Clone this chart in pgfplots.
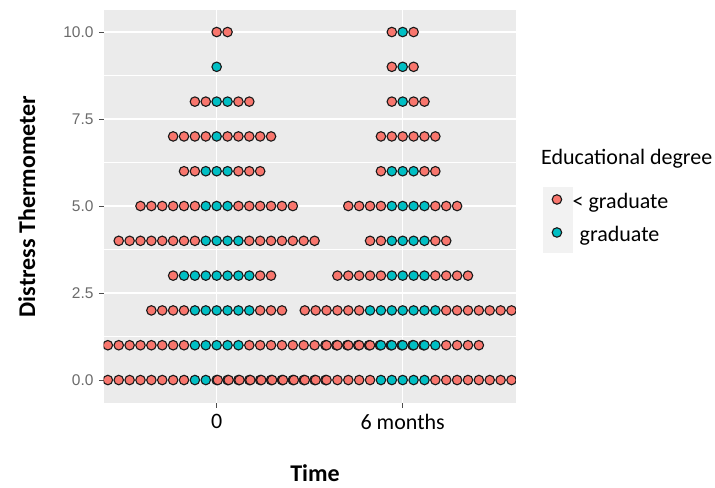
\documentclass[border=0pt]{standalone}
\usepackage{pgfplots}
\pgfplotsset{compat=1.18}
\usepackage{fontspec}
\setmainfont{Carlito}
\newfontfamily\arialf{Liberation Sans}
\definecolor{ggred}{HTML}{F8766D}
\definecolor{ggcyan}{HTML}{00BFC4}
\definecolor{panelbg}{HTML}{EBEBEB}
\definecolor{keybg}{HTML}{F2F2F2}
\definecolor{ticklab}{HTML}{6B6B6B}
\definecolor{tickcol}{HTML}{4D4D4D}
\pgfplotsset{
  dot/.style={only marks, mark=*, mark size=4.75bp,
    mark options={draw=black!90, line width=1.1bp, fill=#1}},
}
\begin{document}
\begin{tikzpicture}
\path[use as bounding box] (-103.5bp,-85bp) rectangle (611.5bp,403bp);
\fill[keybg] (439.2bp,150.3bp) rectangle (469.2bp,215.7bp);
\node[font=\fontsize{22bp}{26bp}\selectfont, anchor=base west, inner sep=0pt] at (437.5bp,238.5bp) {Educational degree};
\begin{axis}[
  at={(0,0)}, anchor=south west,
  x=10.88bp, y=34.8bp,
  xmin=-10.4, xmax=27.5, ymin=-0.66, ymax=10.63,
  axis background/.style={fill=panelbg},
  axis line style={draw=none},
  clip marker paths=true,
  xtick={0,17.1}, xticklabels={0,6 months},
  ytick={0,2.5,5,7.5,10}, yticklabels={0.0,2.5,5.0,7.5,10.0},
  minor ytick={1.25,3.75,6.25,8.75},
  grid=both,
  major grid style={white, line width=1.1bp},
  minor grid style={white, line width=0.55bp},
  tick align=outside, xtick pos=bottom, ytick pos=left,
  major tick length=4.5bp, minor tick length=0pt,
  tick style={tickcol, line width=0.9bp},
  xticklabel style={font=\fontsize{22bp}{26bp}\selectfont, text=black, yshift=-3.5bp},
  yticklabel style={font=\arialf\fontsize{15.5bp}{18bp}\selectfont, text=ticklab, xshift=-2bp},
  xlabel={Time}, ylabel={Distress Thermometer},
  xlabel style={font=\bfseries\fontsize{24bp}{28bp}\selectfont, at={(axis description cs:0.513,-0.178)}, anchor=center},
  ylabel style={font=\bfseries\fontsize{24bp}{28bp}\selectfont, at={(axis description cs:-0.186,0.5)}, anchor=center, rotate=0},
  legend style={draw=none, fill=none, inner sep=0pt, outer sep=0pt,
    at={(axis description cs:1.0881,0.532)}, anchor=north west,
    font=\fontsize{22bp}{26bp}\selectfont,
    nodes={inner sep=0pt, text height=15bp, text depth=6bp},
    column sep=11bp, row sep=12bp},
  legend cell align=left,
  legend image code/.code={\draw[#1] plot coordinates {(0bp,5bp)};},
]
% time 0, < graduate
\addplot[dot=ggred] table[row sep=\\] {
x y\\
0 10\\ 1 10\\
-2 8\\ -1 8\\ 2 8\\ 3 8\\
-4 7\\ -3 7\\ -2 7\\ -1 7\\ 1 7\\ 2 7\\ 3 7\\ 4 7\\ 5 7\\
-3 6\\ -2 6\\ 2 6\\ 3 6\\ 4 6\\
-7 5\\ -6 5\\ -5 5\\ -4 5\\ -3 5\\ -2 5\\ 2 5\\ 3 5\\ 4 5\\ 5 5\\ 6 5\\ 7 5\\
-9 4\\ -8 4\\ -7 4\\ -6 4\\ -5 4\\ -4 4\\ -3 4\\ -2 4\\ 3 4\\ 4 4\\ 5 4\\ 6 4\\ 7 4\\ 8 4\\ 9 4\\
-4 3\\ 4 3\\ 5 3\\
-6 2\\ -5 2\\ -4 2\\ -3 2\\ 4 2\\ 5 2\\ 6 2\\
-19 1\\ -18 1\\ -17 1\\ -16 1\\ -15 1\\ -14 1\\ -13 1\\ -12 1\\ -11 1\\ -10 1\\ -9 1\\ -8 1\\ -7 1\\ -6 1\\ -5 1\\ -4 1\\ -3 1\\
3 1\\ 4 1\\ 5 1\\ 6 1\\ 7 1\\ 8 1\\ 9 1\\ 10 1\\ 11 1\\ 12 1\\ 13 1\\ 14 1\\ 15 1\\ 16 1\\ 17 1\\ 18 1\\ 19 1\\
-10 0\\ -9 0\\ -8 0\\ -7 0\\ -6 0\\ -5 0\\ -4 0\\ -3 0\\
2 0\\ 3 0\\ 4 0\\ 5 0\\ 6 0\\ 7 0\\ 8 0\\ 9 0\\ 10 0\\
};
\addlegendentry{< graduate}
% time 0, graduate
\addplot[dot=ggcyan] table[row sep=\\] {
x y\\
0 9\\
0 8\\ 1 8\\
0 7\\
-1 6\\ 0 6\\ 1 6\\
-1 5\\ 0 5\\ 1 5\\
-1 4\\ 0 4\\ 1 4\\ 2 4\\
-3 3\\ -2 3\\ -1 3\\ 0 3\\ 1 3\\ 2 3\\ 3 3\\
-2 2\\ -1 2\\ 0 2\\ 1 2\\ 2 2\\ 3 2\\
-2 1\\ -1 1\\ 0 1\\ 1 1\\ 2 1\\
-2 0\\ -1 0\\ 0 0\\ 1 0\\
};
\addlegendentry{\hspace{7bp}graduate}
% 6 months, < graduate
\addplot[dot=ggred, forget plot] table[row sep=\\] {
x y\\
16.1 10\\ 18.1 10\\
16.1 9\\ 18.1 9\\
16.1 8\\ 18.1 8\\ 19.1 8\\
15.1 7\\ 16.1 7\\ 17.1 7\\ 18.1 7\\ 19.1 7\\ 20.1 7\\
15.1 6\\ 19.1 6\\ 20.1 6\\
12.1 5\\ 13.1 5\\ 14.1 5\\ 15.1 5\\ 20.1 5\\ 21.1 5\\ 22.1 5\\
14.1 4\\ 15.1 4\\ 20.1 4\\ 21.1 4\\
11.1 3\\ 12.1 3\\ 13.1 3\\ 14.1 3\\ 15.1 3\\ 20.1 3\\ 21.1 3\\ 22.1 3\\ 23.1 3\\
8.1 2\\ 9.1 2\\ 10.1 2\\ 11.1 2\\ 12.1 2\\ 13.1 2\\
21.1 2\\ 22.1 2\\ 23.1 2\\ 24.1 2\\ 25.1 2\\ 26.1 2\\ 27.1 2\\
10.1 1\\ 11.1 1\\ 12.1 1\\ 13.1 1\\ 14.1 1\\ 21.1 1\\ 22.1 1\\ 23.1 1\\ 24.1 1\\
0.1 0\\ 1.1 0\\ 2.1 0\\ 3.1 0\\ 4.1 0\\ 5.1 0\\ 6.1 0\\ 7.1 0\\ 8.1 0\\ 9.1 0\\ 10.1 0\\ 11.1 0\\ 12.1 0\\ 13.1 0\\ 14.1 0\\
20.1 0\\ 21.1 0\\ 22.1 0\\ 23.1 0\\ 24.1 0\\ 25.1 0\\ 26.1 0\\ 27.1 0\\ 28.1 0\\ 29.1 0\\ 30.1 0\\ 31.1 0\\ 32.1 0\\ 33.1 0\\ 34.1 0\\
};
% 6 months, graduate
\addplot[dot=ggcyan, forget plot] table[row sep=\\] {
x y\\
17.1 10\\
17.1 9\\
17.1 8\\
16.1 6\\ 17.1 6\\ 18.1 6\\
16.1 5\\ 17.1 5\\ 18.1 5\\ 19.1 5\\
16.1 4\\ 17.1 4\\ 18.1 4\\ 19.1 4\\
16.1 3\\ 17.1 3\\ 18.1 3\\ 19.1 3\\
14.1 2\\ 15.1 2\\ 16.1 2\\ 17.1 2\\ 18.1 2\\ 19.1 2\\ 20.1 2\\
15.1 1\\ 16.1 1\\ 17.1 1\\ 18.1 1\\ 19.1 1\\ 20.1 1\\
15.1 0\\ 16.1 0\\ 17.1 0\\ 18.1 0\\ 19.1 0\\
};
\end{axis}
\end{tikzpicture}
\end{document}
